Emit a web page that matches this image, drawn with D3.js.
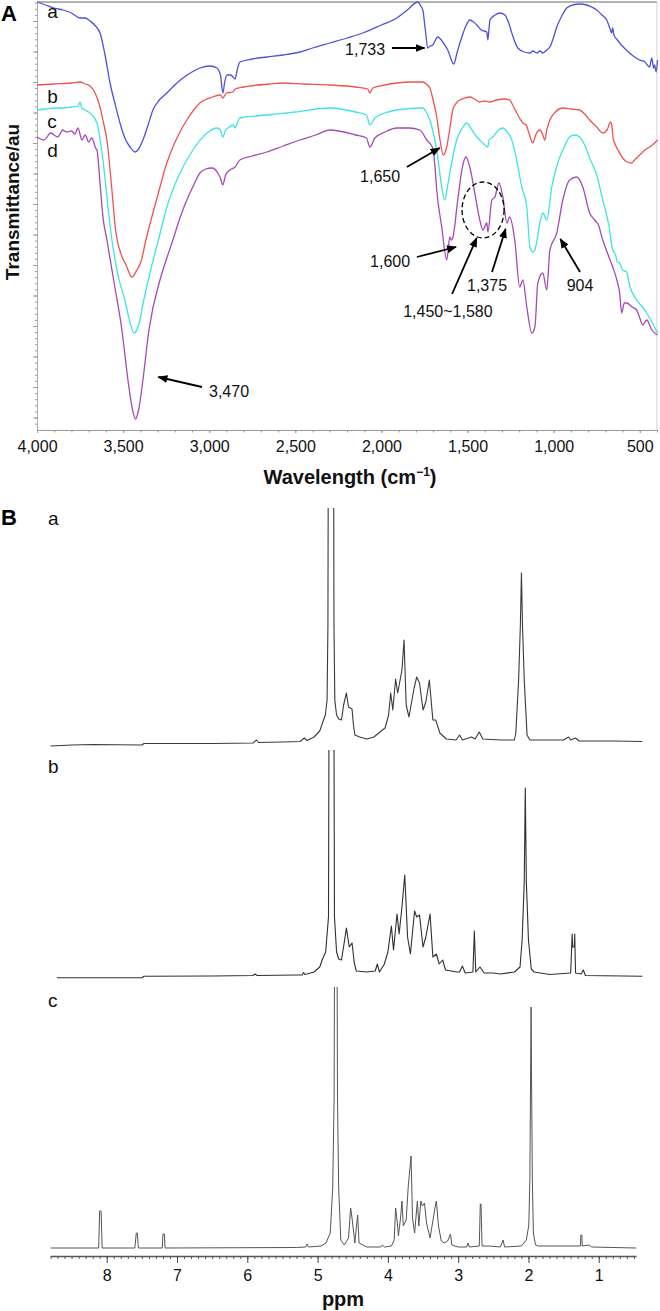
<!DOCTYPE html>
<html><head><meta charset="utf-8">
<script src="https://cdn.jsdelivr.net/npm/d3@7"></script>
<style>
body{margin:0;background:#fff;}
svg{display:block;font-family:"Liberation Sans",Arial,Helvetica,sans-serif;}
</style>
</head><body>
<svg id="chart" width="660" height="1311"></svg>
<script>
// ---------- Panel A: FTIR spectra [wavenumber cm-1, transmittance au] ----------
const irA = [[4000,428],[3950,425],[3900,422],[3850,420],[3800,417],[3750,412],[3720,412],[3692,409],[3660,404],[3634,397],[3605,375],[3576,347],[3545,325],[3518,307],[3490,292],[3460,283],[3431,278],[3410,281],[3385,290],[3355,305],[3327,320],[3290,330],[3246,337],[3200,345],[3153,352],[3100,358],[3054,362],[2996,364],[2955,362],[2935,355],[2921,337],[2910,348],[2897,355],[2875,355],[2862,353],[2850,351],[2835,362],[2822,368],[2750,371],[2665,373],[2570,375],[2474,378],[2400,382],[2300,387],[2200,392],[2108,397],[2000,405],[1911,412],[1850,420],[1789,428],[1775,425],[1760,420],[1745,400],[1731,382],[1717,384],[1702,385],[1673,393],[1644,388],[1615,380],[1580,366],[1560,378],[1533,393],[1510,404],[1487,410],[1465,408],[1446,405],[1420,400],[1388,398],[1382,390],[1376,400],[1370,410],[1340,415],[1312,417],[1283,415],[1263,408],[1243,397],[1225,388],[1208,382],[1170,378],[1138,377],[1120,379],[1098,377],[1080,379],[1063,377],[1040,380],[1022,383],[1000,393],[982,403],[950,415],[924,422],[890,425],[849,426],[808,425],[780,423],[750,420],[720,415],[692,410],[670,400],[663,397],[658,402],[650,395],[630,390],[617,387],[590,382],[559,377],[530,373],[501,370],[470,368],[443,363],[435,369],[430,372],[420,362],[414,365],[405,358],[397,370]];

const irB = [[4000,345],[3900,346],[3800,347],[3750,348],[3720,346],[3692,344],[3660,336],[3634,323],[3615,308],[3594,290],[3565,240],[3545,202],[3510,175],[3483,165],[3449,153],[3420,160],[3397,168],[3365,192],[3330,215],[3286,243],[3250,265],[3211,283],[3170,298],[3130,310],[3090,320],[3054,327],[2979,333],[2935,335],[2921,332],[2900,337],[2862,338],[2850,341],[2800,343],[2764,344],[2650,346],[2572,347],[2450,346],[2300,345],[2150,343],[2080,341],[2067,337],[2050,342],[1980,345],[1911,347],[1830,348],[1760,348],[1740,346],[1719,342],[1700,330],[1679,313],[1660,290],[1641,275],[1621,283],[1600,305],[1586,320],[1565,327],[1545,330],[1515,332],[1487,333],[1460,331],[1429,328],[1400,329],[1370,328],[1330,330],[1290,331],[1255,330],[1235,324],[1214,317],[1179,307],[1160,305],[1140,295],[1121,287],[1110,292],[1100,297],[1080,300],[1065,296],[1051,290],[1040,300],[1022,310],[990,318],[947,322],[900,321],[849,320],[820,316],[791,310],[750,303],[715,297],[690,300],[670,308],[663,305],[655,292],[646,287],[620,278],[599,272],[575,268],[547,267],[530,270],[501,275],[470,280],[443,283],[420,286],[397,290]];

const irC = [[4000,320],[3950,321],[3900,322],[3850,322],[3800,323],[3760,324],[3750,328],[3740,322],[3720,320],[3692,317],[3652,307],[3635,292],[3617,270],[3588,223],[3565,190],[3530,155],[3490,130],[3460,108],[3437,97],[3410,105],[3380,130],[3340,160],[3295,190],[3246,223],[3170,257],[3095,280],[3013,297],[2955,302],[2935,300],[2921,293],[2905,300],[2891,302],[2860,305],[2850,302],[2835,308],[2822,312],[2665,315],[2500,318],[2300,322],[2150,318],[2087,315],[2067,305],[2038,312],[1980,317],[1911,320],[1760,322],[1740,318],[1719,310],[1700,298],[1679,280],[1650,243],[1632,230],[1615,245],[1603,257],[1563,290],[1530,302],[1505,307],[1475,300],[1446,293],[1411,287],[1382,283],[1375,290],[1353,293],[1320,300],[1295,302],[1270,298],[1243,290],[1215,270],[1185,243],[1156,223],[1138,183],[1120,178],[1109,180],[1080,207],[1063,217],[1040,210],[1011,243],[980,265],[947,280],[907,293],[880,295],[849,293],[820,285],[791,272],[750,255],[715,230],[680,205],[657,180],[640,175],[630,168],[617,167],[600,160],[576,158],[560,145],[518,130],[480,122],[460,117],[430,108],[397,97]];

const irD = [[4000,293],[3960,290],[3920,297],[3880,293],[3850,300],[3830,298],[3800,299],[3780,296],[3762,302],[3739,290],[3720,295],[3700,288],[3681,292],[3660,282],[3652,280],[3634,247],[3617,213],[3594,190],[3550,145],[3507,100],[3472,50],[3445,20],[3428,11],[3410,20],[3385,50],[3350,100],[3286,150],[3250,170],[3211,190],[3170,212],[3130,230],[3090,245],[3054,257],[3020,261],[2984,262],[2950,257],[2935,252],[2921,245],[2905,255],[2880,260],[2850,263],[2822,270],[2750,274],[2665,278],[2570,284],[2474,290],[2380,295],[2300,300],[2150,295],[2087,292],[2067,283],[2038,292],[1980,298],[1911,302],[1840,302],[1777,300],[1737,290],[1702,282],[1690,265],[1679,240],[1650,203],[1621,170],[1603,193],[1594,190],[1586,192],[1557,230],[1533,260],[1510,273],[1487,263],[1458,237],[1429,210],[1411,200],[1388,207],[1382,198],[1359,230],[1341,233],[1318,247],[1295,233],[1272,207],[1255,213],[1226,190],[1197,143],[1179,150],[1156,123],[1127,97],[1109,103],[1092,147],[1063,157],[1040,140],[1022,180],[982,197],[947,230],[907,250],[866,253],[831,243],[791,217],[762,210],[740,205],[715,190],[690,178],[657,163],[630,148],[617,137],[605,117],[590,127],[576,127],[545,123],[518,120],[500,112],[482,105],[460,110],[430,100],[397,95]];

const irSeriesNames = ["a","b","c","d"];
const irColors = {a:"#5050dc", b:"#ee5350", c:"#3fe3e6", d:"#a24ab6"};
const irXTicks = [4000,3500,3000,2500,2000,1500,1000,500];
// annotation labels: text position and arrow (data units)
const irNotes = [
  {text:"1,733", at:[2095,381], from:[1939,382], to:[1750,382]},
  {text:"1,650", at:[2008,254], from:[1852,263], to:[1662,282]},
  {text:"1,600", at:[1950,169], from:[1794,173], to:[1567,183]},
  {text:"1,450~1,580", at:[1614,119], from:[1590,136], to:[1447,192]},
  {text:"1,375", at:[1387,145], from:[1358,158], to:[1279,201]},
  {text:"904", at:[847,145], from:[847,158], to:[961,191]},
  {text:"3,470", at:[2885,39], from:[3042,43], to:[3295,53]}
];
const irCircle = {center:[1410,220], halfWidth:122, halfHeight:28};

// ---------- Panel B: 1H NMR spectra [ppm, intensity] ----------
const nmrA = [[8.8,-1],[8.5,0],[8.2,0.5],[7.5,0],[7.47,1.5],[7.0,1.5],[6.5,1.5],[5.92,2],[5.87,5],[5.84,2.5],[5.5,3],[5.25,3.5],[5.19,7],[5.15,4.5],[5.05,8],[4.97,14],[4.93,22],[4.89,30],[4.865,45],[4.853,120],[4.847,330],[4.773,330],[4.767,120],[4.755,45],[4.73,30],[4.70,26],[4.66,25],[4.63,40],[4.59,52],[4.56,38],[4.51,36],[4.49,20],[4.47,10],[4.40,8],[4.30,6],[4.20,8],[4.04,17],[3.99,30],[3.96,52],[3.93,35],[3.89,66],[3.86,52],[3.80,75],[3.77,105],[3.74,40],[3.70,28],[3.63,56],[3.59,68],[3.55,62],[3.50,35],[3.46,43],[3.41,65],[3.36,25],[3.32,25],[3.26,12],[3.17,6],[3.03,5],[2.98,10],[2.94,5],[2.81,8],[2.76,6],[2.70,13],[2.65,6],[2.40,5],[2.20,5],[2.18,12],[2.14,65],[2.115,120],[2.10,172],[2.085,120],[2.06,65],[2.02,10],[1.98,5],[1.50,5],[1.43,8],[1.40,5],[1.33,7],[1.28,4],[0.8,4],[0.38,3.5]];

const nmrB = [[8.71,-0.7],[7.5,-0.7],[7.47,0.7],[6.5,1],[5.92,1.5],[5.89,3],[5.86,1.5],[5.3,2],[5.22,2],[5.20,4.5],[5.18,2.5],[5.05,5],[4.97,10],[4.93,18],[4.885,25],[4.845,60],[4.835,330],[4.77,330],[4.76,60],[4.73,25],[4.70,18],[4.66,17],[4.62,35],[4.59,49],[4.55,30],[4.51,34],[4.48,15],[4.45,6],[4.30,5],[4.18,6],[4.15,13],[4.12,5],[4.05,13],[4.00,25],[3.95,51],[3.92,27],[3.87,63],[3.84,43],[3.80,70],[3.76,102],[3.72,40],[3.68,23],[3.62,66],[3.59,60],[3.55,62],[3.50,30],[3.46,40],[3.40,63],[3.36,20],[3.31,23],[3.27,13],[3.22,17],[3.18,7],[3.02,5],[2.98,5],[2.94,11],[2.90,4],[2.79,5],[2.77,46],[2.75,5],[2.69,10],[2.63,4],[2.50,4],[2.40,3],[2.20,5],[2.12,10],[2.09,37],[2.06,95],[2.045,189],[2.03,95],[2.00,37],[1.96,8],[1.92,5],[1.70,2.5],[1.40,4],[1.378,43],[1.372,30],[1.348,30],[1.342,43],[1.33,4],[1.25,3],[1.22,7],[1.19,1.5],[0.38,0.7]];

const nmrC = [[8.8,0],[8.115,0],[8.10,37],[8.08,37],[8.065,0],[7.6,0],[7.58,15],[7.565,15],[7.55,0],[7.21,0],[7.20,14],[7.18,14],[7.17,0],[5.3,0.5],[5.17,1],[5.15,4],[5.13,1],[4.95,2],[4.88,5],[4.82,15],[4.785,60],[4.765,150],[4.755,400],[4.727,400],[4.717,150],[4.70,60],[4.67,8],[4.62,3],[4.56,10],[4.53,40],[4.51,30],[4.47,5],[4.45,20],[4.43,33],[4.41,5],[4.30,1],[4.10,1],[4.08,3],[4.05,1],[3.95,2],[3.91,8],[3.89,40],[3.87,28],[3.85,12],[3.82,30],[3.80,47],[3.78,22],[3.74,28],[3.71,62],[3.67,92],[3.65,30],[3.62,15],[3.58,47],[3.56,22],[3.53,47],[3.51,42],[3.48,45],[3.45,25],[3.40,10],[3.33,40],[3.31,47],[3.28,22],[3.24,7],[3.20,5],[3.15,7],[3.11,14],[3.09,3],[3.00,1],[2.88,1],[2.86,5],[2.84,1],[2.70,2],[2.685,44],[2.675,44],[2.66,2],[2.55,2],[2.40,1],[2.36,8],[2.34,1],[2.10,2],[2.03,8],[1.995,23],[1.98,70],[1.97,170],[1.963,241],[1.956,170],[1.945,70],[1.93,15],[1.90,3],[1.86,2],[1.40,2],[1.26,2],[1.255,13],[1.24,13],[1.235,2],[1.14,3],[1.10,1],[0.47,0]];

const nmrSeriesNames = ["a","b","c"];
const nmrXTicks = [8,7,6,5,4,3,2,1];

// ---------- Drawing ----------
const svg = d3.select("#chart");
const font = '"Liberation Sans",Arial,Helvetica,sans-serif';

const defs = svg.append("defs");
defs.append("marker").attr("id","arr").attr("viewBox","0 0 10 8")
  .attr("refX",9).attr("refY",4).attr("markerWidth",10).attr("markerHeight",8)
  .attr("markerUnits","userSpaceOnUse").attr("orient","auto")
  .append("path").attr("d","M0,0L10,4L0,8Z").attr("fill","#000");

// Panel A scales
const A = {left:37, right:657, top:2, bottom:430};
const xA = d3.scaleLinear().domain([4000,400]).range([A.left, A.right]);
const yA = d3.scaleLinear().domain([0,428]).range([A.bottom, A.top]);

// frame: top & right
svg.append("line").attr("x1",xA(4000)).attr("x2",xA(400)).attr("y1",yA(428)).attr("y2",yA(428))
  .attr("stroke","#9a9a9a").attr("stroke-width",1.6);
svg.append("line").attr("x1",xA(400)).attr("x2",xA(400)).attr("y1",yA(428)).attr("y2",yA(0))
  .attr("stroke","#d0d0d0").attr("stroke-width",1);

// left axis with dotted minor ticks
const gyMin = svg.append("g").attr("transform",`translate(${A.left},0)`)
  .call(d3.axisLeft(yA).tickValues(d3.range(6.4,428,6.1)).tickSize(2).tickFormat(""));
const gy = svg.append("g").attr("transform",`translate(${A.left},0)`)
  .call(d3.axisLeft(yA).tickValues(d3.range(12.5,428,30.5)).tickSize(4).tickFormat("").tickSizeOuter(0));
[gyMin, gy].forEach(g=>{g.selectAll("path").attr("stroke","#aaa");g.selectAll("line").attr("stroke","#999");});
gyMin.select(".domain").remove();

// bottom axis
const gxMin = svg.append("g").attr("transform",`translate(0,${A.bottom})`)
  .call(d3.axisBottom(xA).tickValues(d3.range(4000,399,-100)).tickSize(2.5).tickFormat("").tickSizeOuter(0));
const gx = svg.append("g").attr("transform",`translate(0,${A.bottom})`)
  .call(d3.axisBottom(xA).tickValues(irXTicks).tickSize(3).tickPadding(8).tickFormat(d3.format(",")).tickSizeOuter(0));
gxMin.select(".domain").remove();
gx.select(".domain").attr("stroke","#999").attr("stroke-width",1.2);
gx.selectAll("line").attr("stroke","#999");
gxMin.selectAll("line").attr("stroke","#999");
gx.selectAll("text").attr("font-size",16).attr("font-family",font).attr("fill","#111");

// axis titles
const xt = svg.append("text").attr("x",350).attr("y",484).attr("text-anchor","middle")
  .attr("font-size",20).attr("font-weight","bold").attr("font-family",font).attr("fill","#111");
xt.append("tspan").text("Wavelength (cm");
xt.append("tspan").text("\u22121").attr("font-size",12).attr("dy",-8);
xt.append("tspan").text(")").attr("dy",8);

svg.append("text").attr("transform","translate(19,202) rotate(-90)").attr("text-anchor","middle")
  .attr("font-size",19).attr("font-weight","bold").attr("font-family",font).attr("fill","#111")
  .text("Transmittance/au");

// panel letters
svg.append("text").attr("x",1).attr("y",21).attr("font-size",22).attr("font-weight","bold").attr("font-family",font).text("A");
svg.append("text").attr("x",1).attr("y",525).attr("font-size",22).attr("font-weight","bold").attr("font-family",font).text("B");

// IR curves
const irLine = d3.line().x(d=>xA(d[0])).y(d=>yA(d[1])).curve(d3.curveMonotoneX);
const irData = {a:irA, b:irB, c:irC, d:irD};
["a","b","d","c"].forEach(k=>{
  svg.append("path").datum(irData[k]).attr("d",irLine).attr("fill","none")
    .attr("stroke",irColors[k]).attr("stroke-width",1.3).attr("stroke-linejoin","round");
});

// series labels
const irLabelY = {a:412, b:327, c:302, d:273};
irSeriesNames.forEach(k=>{
  svg.append("text").attr("x",xA(3940)).attr("y",yA(irLabelY[k])).attr("font-size",19)
    .attr("font-family",font).attr("fill","#111").text(k);
});

// annotations
irNotes.forEach(n=>{
  svg.append("text").attr("x",xA(n.at[0])).attr("y",yA(n.at[1])).attr("dy","0.36em")
    .attr("text-anchor","middle").attr("font-size",16).attr("font-family",font).attr("fill","#111").text(n.text);
  svg.append("line").attr("x1",xA(n.from[0])).attr("y1",yA(n.from[1]))
    .attr("x2",xA(n.to[0])).attr("y2",yA(n.to[1])).attr("stroke","#000").attr("stroke-width",1.8)
    .attr("marker-end","url(#arr)");
});
svg.append("ellipse").attr("cx",xA(irCircle.center[0])).attr("cy",yA(irCircle.center[1]))
  .attr("rx",Math.abs(xA(irCircle.center[0]+irCircle.halfWidth)-xA(irCircle.center[0])))
  .attr("ry",Math.abs(yA(irCircle.center[1]+irCircle.halfHeight)-yA(irCircle.center[1])))
  .attr("fill","none").attr("stroke","#000").attr("stroke-width",1.3).attr("stroke-dasharray","5,3");

// Panel B
const xB = d3.scaleLinear().domain([8.8,0.47]).range([50.5,636]);
const nmrPanels = [
  {key:"a", data:nmrA, base:745, top:508, max:237, color:"#3a3a3a", labelY:525, w:1.1},
  {key:"b", data:nmrB, base:977, top:750, max:227, color:"#303030", labelY:773, w:1.1},
  {key:"c", data:nmrC, base:1248, top:987, max:261, color:"#555", labelY:1007, w:1}
];
nmrPanels.forEach((p,i)=>{
  const y = d3.scaleLinear().domain([0,p.max]).range([p.base,p.top]);
  const cid = "clipB"+i;
  defs.append("clipPath").attr("id",cid).append("rect")
    .attr("x",0).attr("width",660).attr("y",p.top).attr("height",p.base-p.top+10);
  const line = d3.line().x(d=>xB(d[0])).y(d=>y(d[1]));
  svg.append("path").datum(p.data).attr("d",line).attr("fill","none")
    .attr("stroke",p.color).attr("stroke-width",p.w).attr("stroke-linejoin","round")
    .attr("clip-path",`url(#${cid})`);
  svg.append("text").attr("x",48).attr("y",p.labelY).attr("font-size",19)
    .attr("font-family",font).attr("fill","#111").text(p.key);
});

// ppm axis
const axisY = 1256;
const gbMin = svg.append("g").attr("transform",`translate(0,${axisY})`)
  .call(d3.axisBottom(xB).tickValues(d3.range(5,89).map(v=>v/10)).tickSize(3).tickFormat("").tickSizeOuter(0));
const gb = svg.append("g").attr("transform",`translate(0,${axisY})`)
  .call(d3.axisBottom(xB).tickValues(nmrXTicks).tickSize(7).tickPadding(7).tickFormat(d3.format("d")).tickSizeOuter(0));
gbMin.select(".domain").remove();
gb.select(".domain").attr("stroke","#555").attr("stroke-width",1.3);
gb.selectAll("line").attr("stroke","#444");
gbMin.selectAll("line").attr("stroke","#555");
gb.selectAll("text").attr("font-size",16).attr("font-family",font).attr("fill","#111");
svg.append("text").attr("x",343).attr("y",1306).attr("text-anchor","middle")
  .attr("font-size",20).attr("font-weight","bold").attr("font-family",font).attr("fill","#111").text("ppm");
</script>
</body></html>
